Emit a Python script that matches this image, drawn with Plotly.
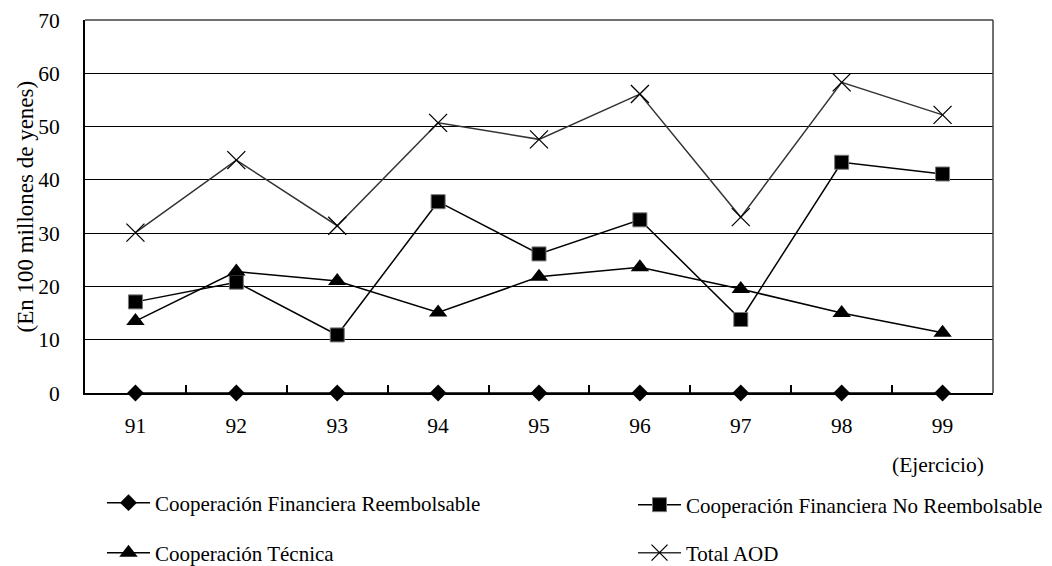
import plotly.graph_objects as go

years = ["91", "92", "93", "94", "95", "96", "97", "98", "99"]
reembolsable = [0, 0, 0, 0, 0, 0, 0, 0, 0]
no_reembolsable = [17.1, 20.8, 10.9, 35.9, 26.1, 32.5, 13.8, 43.3, 41.1]
tecnica = [13.5, 22.8, 21.0, 15.1, 21.8, 23.6, 19.5, 15.0, 11.3]
total_aod = [30.1, 43.7, 31.4, 50.7, 47.6, 56.1, 33.0, 58.3, 52.2]
y_ticks = [0, 10, 20, 30, 40, 50, 60, 70]

FONT = "Liberation Serif, Times New Roman, Tinos, serif"
FS = 21.5
LFS = 21
OFF = 8  # page body margin

fig = go.Figure()
fig.add_trace(go.Scatter(
    x=years, y=reembolsable, mode="lines+markers",
    name="Cooperación Financiera Reembolsable",
    line=dict(color="black", width=1.5),
    marker=dict(symbol="diamond", size=13, color="black"),
    legend="legend", showlegend=True, cliponaxis=False))
fig.add_trace(go.Scatter(
    x=years, y=no_reembolsable, mode="lines+markers",
    name="Cooperación Financiera No Reembolsable",
    line=dict(color="black", width=1.5),
    marker=dict(symbol="square", size=14, color="black",
                line=dict(color="#777777", width=1)),
    legend="legend2", showlegend=True))
fig.add_trace(go.Scatter(
    x=years, y=tecnica, mode="lines+markers",
    name="Cooperación Técnica",
    line=dict(color="black", width=1.5),
    marker=dict(symbol="triangle-up", size=16, color="black"),
    legend="legend3", showlegend=True))
fig.add_trace(go.Scatter(
    x=years, y=total_aod, mode="lines+markers",
    name="Total AOD",
    line=dict(color="#333333", width=1.5),
    marker=dict(symbol="x-thin", size=18,
                line=dict(color="black", width=1.3)),
    legend="legend4", showlegend=True))

W, H = 1052, 566
leg_common = dict(font=dict(family=FONT, size=LFS, color="black"),
                  bgcolor="rgba(0,0,0,0)", itemwidth=43,
                  xref="container", yref="container",
                  xanchor="left", yanchor="middle")

fig.update_layout(
    width=W, height=H, showlegend=True,
    margin=dict(l=85 - OFF, r=W - (993 - OFF), t=20 - OFF,
                b=H - (393 - OFF), autoexpand=False),
    paper_bgcolor="white", plot_bgcolor="white",
    font=dict(family=FONT, size=FS, color="black"),
    xaxis=dict(type="category", tickson="boundaries", ticks="inside",
               ticklen=8, tickwidth=1.5, tickcolor="black",
               showline=True, linecolor="black", linewidth=2,
               mirror=False, showgrid=False, ticklabelstandoff=12,
               tickfont=dict(family=FONT, size=FS),
               range=[-0.5, 8.5], fixedrange=True),
    yaxis=dict(range=[0, 70], tickvals=y_ticks, ticks="inside",
               ticklen=6, tickcolor="black", showline=True,
               linecolor="black", linewidth=2, showgrid=True,
               gridcolor="black", gridwidth=1, zeroline=False,
               ticklabelstandoff=19, tickfont=dict(family=FONT, size=FS),
               fixedrange=True),
    legend=dict(x=(102 - OFF) / W, y=1 - (503 - OFF) / H, **leg_common),
    legend2=dict(x=(633 - OFF) / W, y=1 - (505 - OFF) / H, **leg_common),
    legend3=dict(x=(102 - OFF) / W, y=1 - (553 - OFF) / H, **leg_common),
    legend4=dict(x=(633 - OFF) / W, y=1 - (553 - OFF) / H, **leg_common),
    annotations=[
        dict(text="(En 100 millones de yenes)", textangle=-90,
             xref="paper", yref="paper", x=0, y=0.5, xshift=-60,
             xanchor="center", yanchor="middle", showarrow=False,
             font=dict(family=FONT, size=23)),
        dict(text="(Ejercicio)", xref="paper", yref="paper",
             x=1, y=0, xshift=-7, yshift=-72, xanchor="right",
             yanchor="middle", showarrow=False,
             font=dict(family=FONT, size=FS)),
    ],
    shapes=[
        dict(type="line", xref="paper", yref="paper", x0=0, x1=1,
             y0=1, y1=1, line=dict(color="#404040", width=1.5)),
        dict(type="line", xref="paper", yref="paper", x0=1, x1=1,
             y0=0, y1=1, line=dict(color="#404040", width=1.5)),
    ],
)

fig.write_html("out.html")
